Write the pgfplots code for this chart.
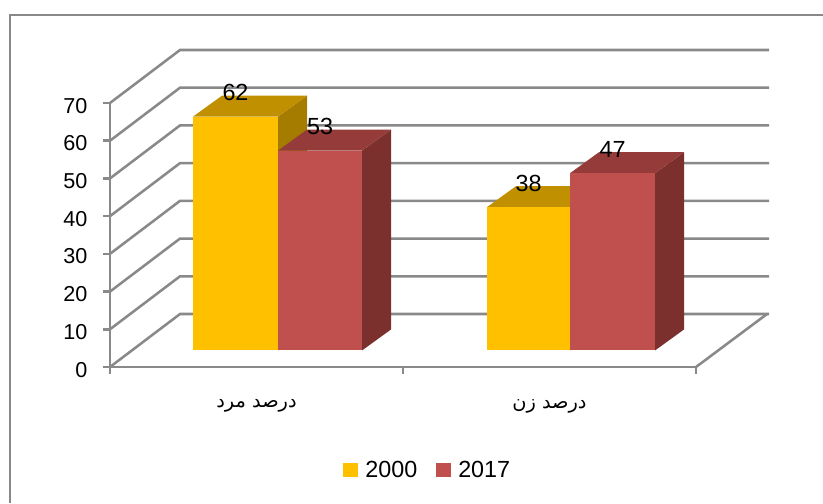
\documentclass[border=0pt]{standalone}
\usepackage{pgfplots}
\pgfplotsset{compat=1.18}
\usepackage{fontspec}
\setmainfont{Liberation Sans}
\newfontfamily\arabicfont[Script=Arabic]{DejaVu Sans}
\TeXXeTstate=1
\definecolor{yfront}{HTML}{FFC000}
\definecolor{ytop}{HTML}{C09000}
\definecolor{yside}{HTML}{A67C00}
\definecolor{rfront}{HTML}{C0504D}
\definecolor{rtop}{HTML}{953B39}
\definecolor{rside}{HTML}{7B302E}
\definecolor{gridc}{HTML}{898989}
\pgfplotsset{
  gl/.style={forget plot, draw=gridc, line width=1.9pt, mark=none},
  barlabel/.style={forget plot, draw=none, mark=none, nodes near coords,
    point meta=explicit symbolic,
    every node near coord/.append style={anchor=center, text=black,
      font=\fontsize{17.5}{20}\selectfont}},
}
% #1 x left, #2 x right, #3 value, #4 front, #5 top, #6 side
\newcommand{\threedbar}[6]{%
  \pgfmathsetmacro\Yb{4.38}%
  \pgfmathsetmacro\Yt{4.38+#3}%
  \pgfmathsetmacro\Ytt{4.38+#3+5.57}%
  \pgfmathsetmacro\Ybb{4.38+5.57}%
  \pgfmathsetmacro\Xrr{#2+29}%
  \pgfmathsetmacro\Xll{#1+29}%
  \pgfmathsetmacro\Xc{(#1+#2)/2}%
  \pgfmathsetmacro\Yl{4.38+#3+5.57+0.8}%
  \edef\doit{%
    \noexpand\addplot[forget plot, draw=none, fill=#6] coordinates {(#2,\Yb) (#2,\Yt) (\Xrr,\Ytt) (\Xrr,\Ybb)};
    \noexpand\addplot[forget plot, draw=none, fill=#5] coordinates {(#1,\Yt) (#2,\Yt) (\Xrr,\Ytt) (\Xll,\Ytt)};
    \noexpand\addplot[forget plot, draw=none, fill=#4] coordinates {(#1,\Yb) (#2,\Yb) (#2,\Yt) (#1,\Yt)};
    \noexpand\addplot[barlabel] coordinates {(\Xc,\Yl) [#3]};
  }\doit}
\begin{document}
\begin{tikzpicture}
\path[use as bounding box] (0,0) rectangle (617.25pt,377.25pt);
\draw[gridc, line width=1.1pt] (7.5pt,0) -- (7.5pt,366pt) -- (617.25pt,366pt);
\begin{axis}[
  at={(82.5pt,102pt)}, anchor=south west,
  scale only axis, width=495pt, height=237.75pt,
  xmin=110, xmax=770, ymin=0, ymax=84.05,
  enlargelimits=false, clip=false,
  axis line style={draw=none}, tick style={draw=none},
  ytick={0,10,...,70},
  /pgf/number format/assume math mode=true,
  yticklabel style={anchor=east, xshift=-13.5pt, yshift=-2pt, font=\fontsize{16.2}{18}\selectfont},
  xtick={256.5,549.5},
  xticklabels={{\arabicfont\beginR درصد مرد\endR},{\arabicfont\beginR درصد زن\endR}},
  xticklabel style={anchor=center, yshift=-29.5pt, font=\fontsize{14.5}{17}\selectfont},
  legend style={at={(0.4818,-0.325)}, anchor=center, draw=none, fill=none,
    legend columns=2, font=\fontsize{17.5}{20}\selectfont,
    /tikz/every odd column/.append style={column sep=3.5pt},
    /tikz/every even column/.append style={column sep=12pt}},
  legend image code/.code={\fill[#1] (0pt,-5.6pt) rectangle (11.2pt,5.6pt);},
]
% back wall + left wall gridlines
\addplot[gl] coordinates {(110,0) (180,14.05) (769,14.05)};
\addplot[gl] coordinates {(110,10) (180,24.05) (769,24.05)};
\addplot[gl] coordinates {(110,20) (180,34.05) (769,34.05)};
\addplot[gl] coordinates {(110,30) (180,44.05) (769,44.05)};
\addplot[gl] coordinates {(110,40) (180,54.05) (769,54.05)};
\addplot[gl] coordinates {(110,50) (180,64.05) (769,64.05)};
\addplot[gl] coordinates {(110,60) (180,74.05) (769,74.05)};
\addplot[gl] coordinates {(110,70) (180,84.05) (769,84.05)};
% floor right edge
\addplot[gl] coordinates {(696,0) (767,14.05)};
% front axes
\addplot[gl] coordinates {(110,70) (110,0) (696,0)};
\pgfplotsinvokeforeach{0,10,20,30,40,50,60,70}{\addplot[gl] coordinates {(103,#1) (110,#1)};}
\pgfplotsinvokeforeach{110,403,696}{\addplot[gl] coordinates {(#1,0) (#1,-1.86)};}
% bars
\threedbar{193}{278}{62}{yfront}{ytop}{yside}
\threedbar{278}{362}{53}{rfront}{rtop}{rside}
\threedbar{487}{570}{38}{yfront}{ytop}{yside}
\threedbar{570}{655}{47}{rfront}{rtop}{rside}
\addlegendimage{fill=yfront, draw=none}
\addlegendentry{2000}
\addlegendimage{fill=rfront, draw=none}
\addlegendentry{2017}
\end{axis}
\end{tikzpicture}
\end{document}
